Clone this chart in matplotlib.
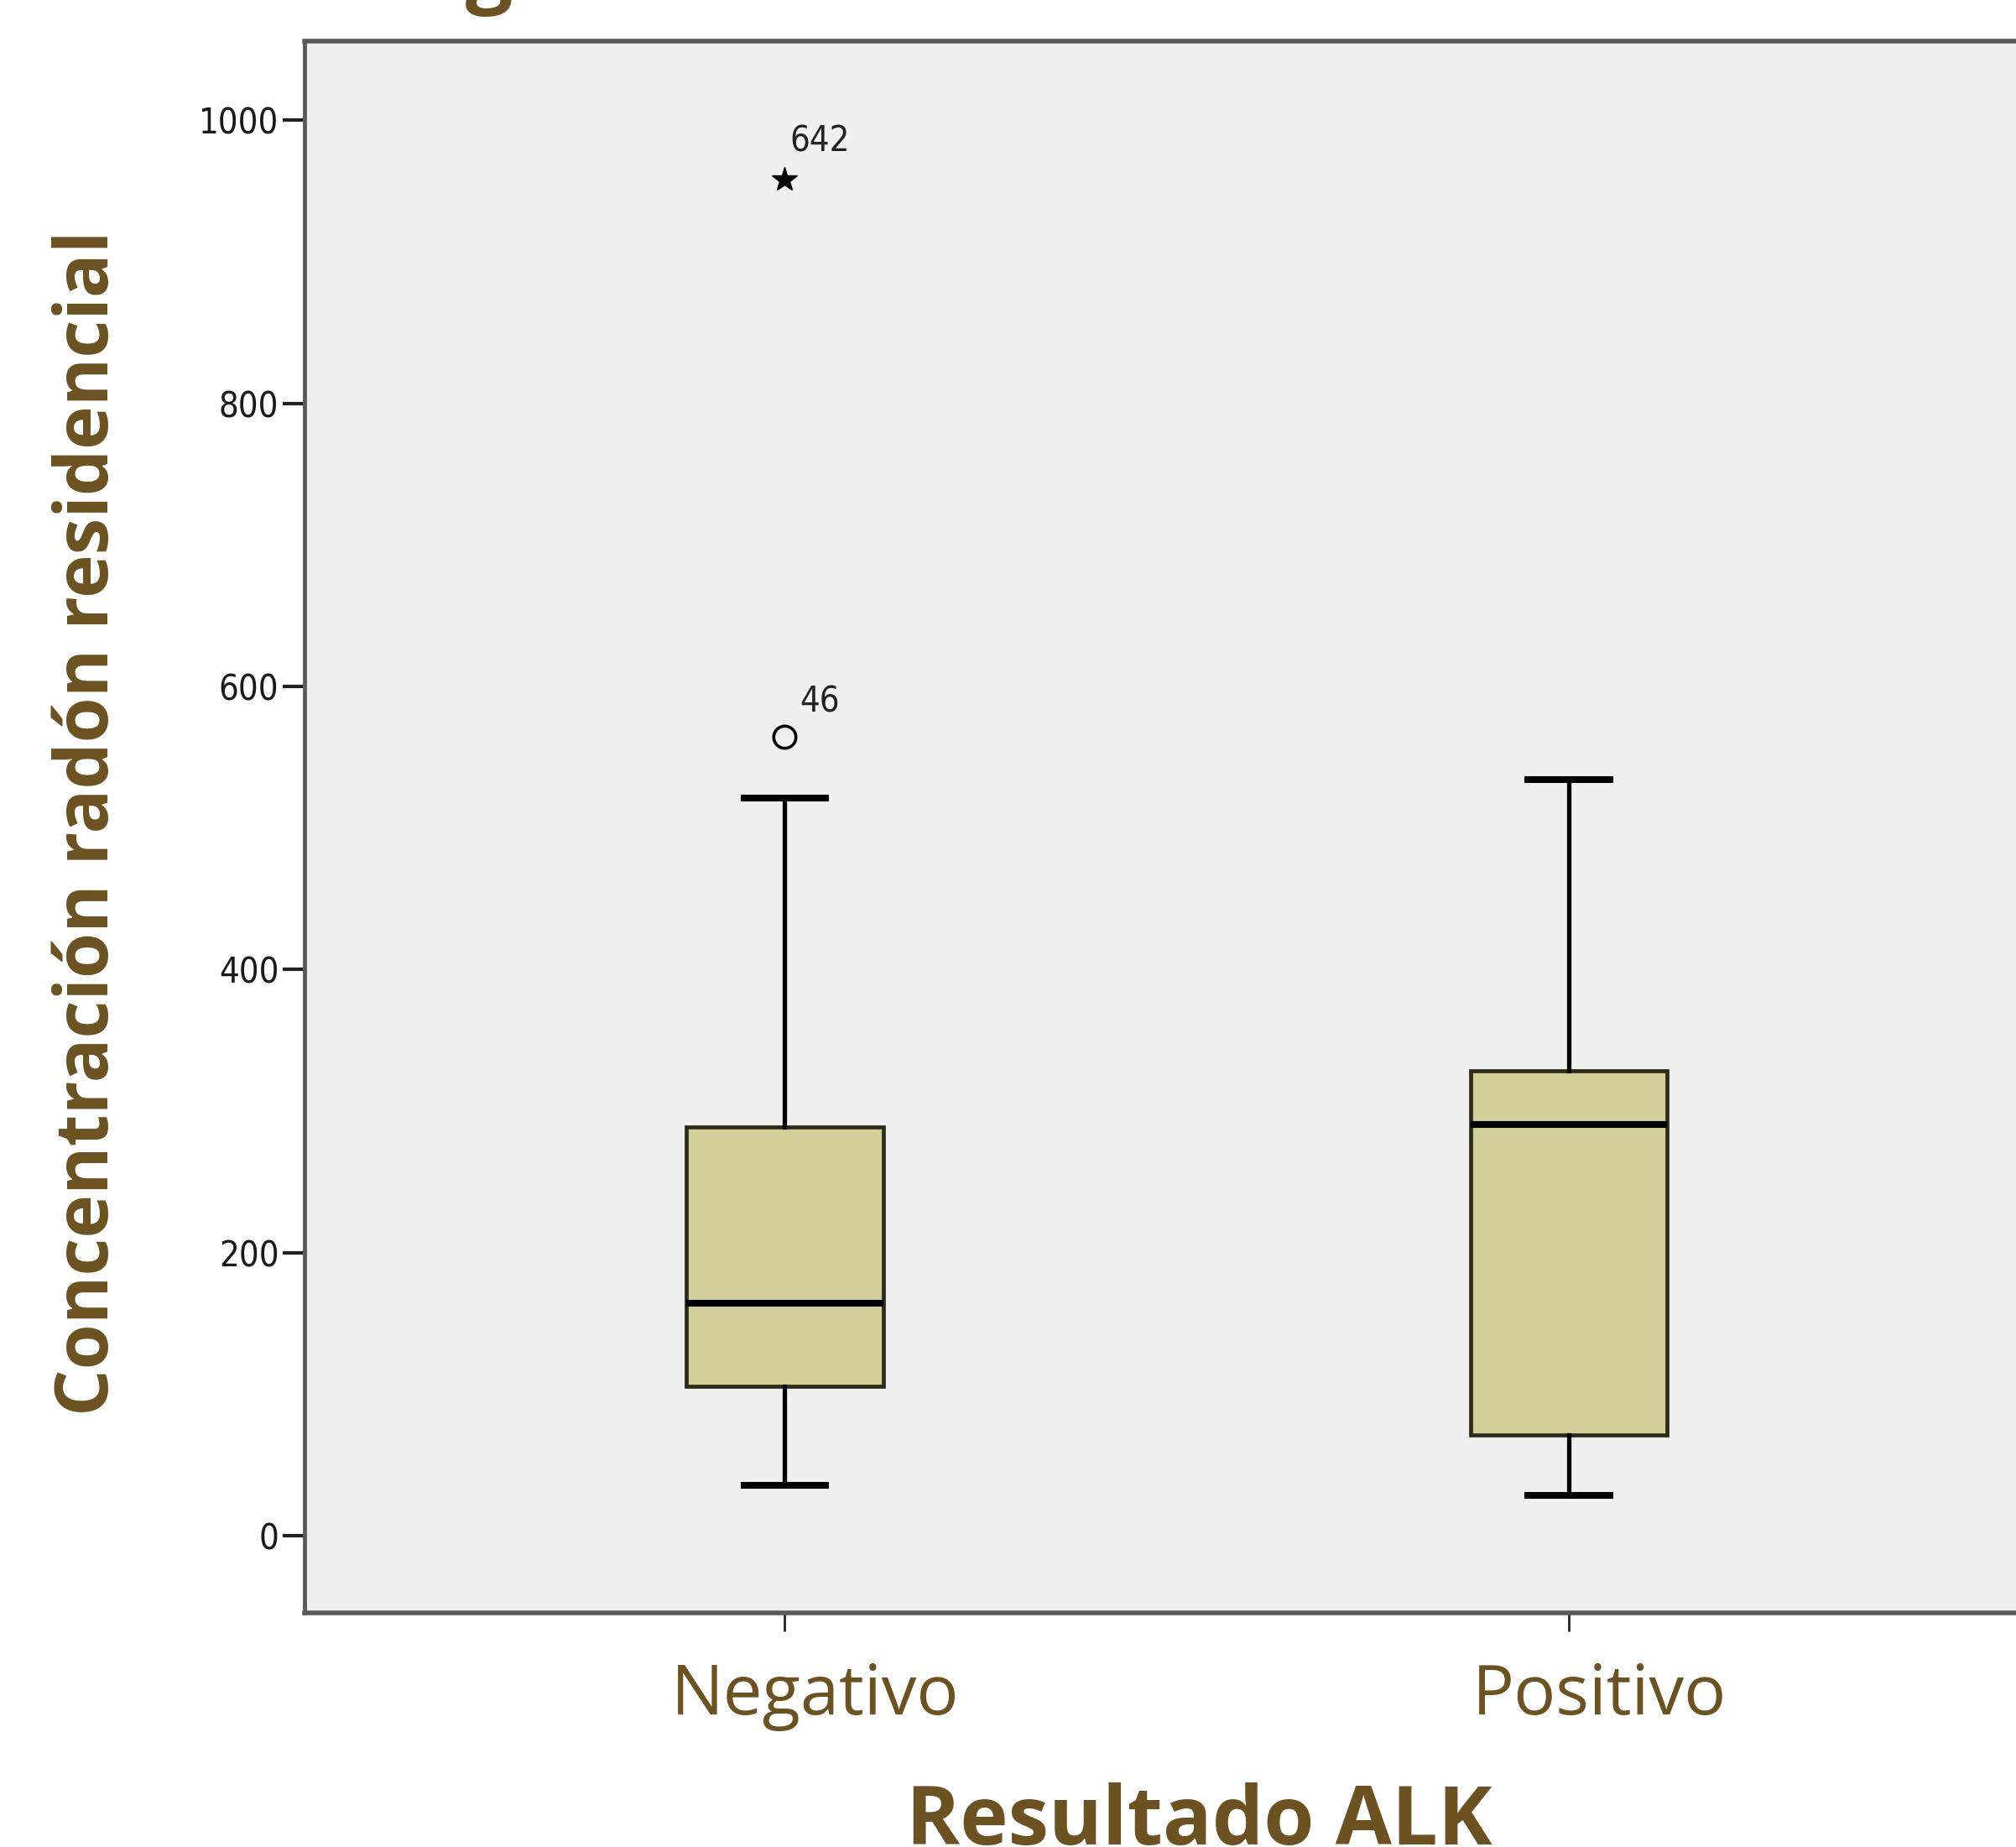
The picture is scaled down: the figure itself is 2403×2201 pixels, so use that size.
#!/usr/bin/env python3
"""Boxplot: concentracion de radon residencial por resultado ALK."""

import matplotlib
matplotlib.use("Agg")
import matplotlib.pyplot as plt
from matplotlib import font_manager
from matplotlib.transforms import ScaledTranslation

# data
categories = ["Negativo", "Positivo"]
whisker_low = [35.5, 28.5]
q1 = [105.5, 71.0]
median = [164.5, 290.5]
q3 = [288.5, 328.5]
whisker_high = [521.0, 534.5]
outlier_values = [564.5]        # circle, Negativo
outlier_labels = ["46"]
extreme_values = [958.0]        # star, Negativo
extreme_labels = ["642"]
yticks = [0, 200, 400, 600, 800, 1000]

BROWN = "#6b5220"
BOX_FILL = "#d3cf98"
SPINE = "#5a5a5a"
LABEL_FONT = ["Open Sans", "DejaVu Sans"]


def narrow_font() -> tuple[list[str], str, float]:
    """Pick a condensed face for the small SPSS-style numbers if one exists."""
    names = {f.name for f in font_manager.fontManager.ttflist}
    for fam in ["Liberation Sans Narrow", "DejaVu Sans Condensed"]:
        if fam in names:
            return [fam, "DejaVu Sans"], "normal", 31
    props = font_manager.FontProperties(family="DejaVu Sans", stretch="condensed")
    path = font_manager.findfont(props)
    if "Condensed" in path:
        return ["DejaVu Sans"], "condensed", 30
    return ["Liberation Sans", "DejaVu Sans"], "normal", 30


TICK_FONT, TICK_STRETCH, TICK_SIZE = narrow_font()

W, H = 2403, 2201
fig = plt.figure(figsize=(W / 100, H / 100), dpi=100)

# axes geometry in pixels (right edge runs past the canvas, as in the source)
x_left, x_right = -0.6126, 1.6126
px_left, px_right = 363, 2442.5
px_top, px_bottom = 49, 1922
ax = fig.add_axes([px_left / W, 1 - px_bottom / H,
                   (px_right - px_left) / W, (px_bottom - px_top) / H])
ax.set_facecolor("#f0f0f0")

stats = []
for i, cat in enumerate(categories):
    stats.append({
        "label": cat,
        "whislo": whisker_low[i],
        "q1": q1[i],
        "med": median[i],
        "q3": q3[i],
        "whishi": whisker_high[i],
        "fliers": [],
    })

ax.bxp(
    stats,
    positions=range(len(categories)),
    widths=0.251,
    patch_artist=True,
    showfliers=False,
    boxprops=dict(facecolor=BOX_FILL, edgecolor="#2e2a18", linewidth=3.4),
    medianprops=dict(color="black", linewidth=5.8, solid_capstyle="butt"),
    whiskerprops=dict(color="black", linewidth=3.8),
    capprops=dict(color="black", linewidth=5.8),
    capwidths=0.104,
)

# outliers on the Negativo group
neg_x = [0] * len(outlier_values)
ax.plot(neg_x, outlier_values, linestyle="none", marker="o", markersize=19,
        markerfacecolor="none", markeredgecolor="black", markeredgewidth=2.6)
for v, lab in zip(outlier_values, outlier_labels):
    ax.annotate(lab, (0, v), xytext=(13, 21), textcoords="offset points",
                fontsize=TICK_SIZE, family=TICK_FONT, stretch=TICK_STRETCH,
                color="#222222")

ext_x = [0] * len(extreme_values)
ax.plot(ext_x, extreme_values, linestyle="none", marker="*", markersize=22,
        color="black")
for v, lab in zip(extreme_values, extreme_labels):
    ax.annotate(lab, (0, v), xytext=(4, 24), textcoords="offset points",
                fontsize=TICK_SIZE, family=TICK_FONT, stretch=TICK_STRETCH,
                color="#222222")

ax.set_xlim(x_left, x_right)
ax.set_ylim(-54.5, 1056)
ax.set_yticks(yticks)
ax.set_yticklabels([str(t) for t in yticks], family=TICK_FONT,
                   stretch=TICK_STRETCH, fontsize=TICK_SIZE, color="#1a1a1a")
ax.set_xticks(range(len(categories)))
ax.set_xticklabels(categories, family=LABEL_FONT, fontsize=60, color=BROWN)

ax.tick_params(axis="y", direction="out", length=19, width=3, color="#222222", pad=3)
ax.tick_params(axis="x", direction="out", length=16, width=2, color="#222222", pad=26)

# category labels sit a little right of their ticks in the source
offset = ScaledTranslation(36 / 100, 0, fig.dpi_scale_trans)
for lbl in ax.get_xticklabels():
    lbl.set_transform(lbl.get_transform() + offset)

for side in ["left", "right"]:
    ax.spines[side].set_linewidth(3.5)
    ax.spines[side].set_color(SPINE)
for side in ["top", "bottom"]:
    ax.spines[side].set_linewidth(4)
    ax.spines[side].set_color(SPINE)

# axis titles
fig.text(150 / W, 1 - 981 / H, "Concentración radón residencial", rotation=90,
         ha="right", va="center", fontsize=63, fontweight="bold",
         family=LABEL_FONT, color=BROWN)
fig.text(1429 / W, 3 / H, "Resultado ALK", ha="center", va="baseline",
         fontsize=70, fontweight="bold", family=LABEL_FONT, color=BROWN)

# title, cut off by the top edge of the source image
fig.text(390 / W, 1 + 4 / H, "Diagrama", ha="left", va="baseline",
         fontsize=72, fontweight="bold", family=LABEL_FONT, color=BROWN)

fig.savefig("out.png", dpi=100)
